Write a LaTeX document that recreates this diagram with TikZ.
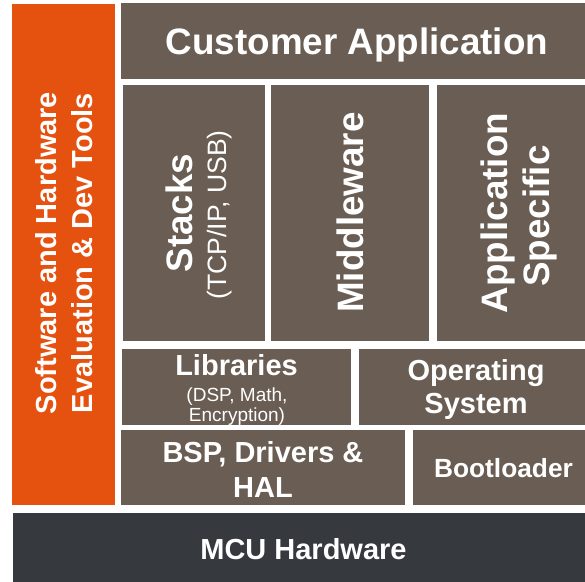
\documentclass[tikz,border=0pt]{standalone}
\usepackage{fontspec}
\setmainfont{Liberation Sans}
\usepackage{xcolor}
\usepackage{tikz}

\definecolor{toolorange}{RGB}{229,81,14}
\definecolor{layerbrown}{RGB}{105,93,84}
\definecolor{hwgrey}{RGB}{54,58,62}

\begin{document}
\begin{tikzpicture}[x=1pt,y=-1pt,
  txt/.style={text=white,inner sep=0pt,anchor=base},
  head/.style={txt,font=\bfseries\fontsize{36.8}{40}\selectfont},
  layer/.style={txt,font=\bfseries\fontsize{29}{33}\selectfont},
  note/.style={txt,font=\fontsize{26.6}{30}\selectfont},
  fine/.style={txt,font=\fontsize{19}{21}\selectfont}]
\useasboundingbox (0,0) rectangle (585,581);
\clip (0,0) rectangle (585,581);
\fill[toolorange] (12,4) rectangle (115,505);
  \node[layer,rotate=90] (tools1) at (56,253) {Software and Hardware};
  \node[layer,rotate=90] (tools2) at (92,253) {Evaluation \& Dev Tools};
\fill[layerbrown] (121,3) rectangle (593,79);
  \node[head] (cust) at (357,54.5) {Customer Application};
\fill[layerbrown] (123,85) rectangle (265,341);
  \node[head,rotate=90] (stacks) at (192,213) {Stacks};
  \node[note,rotate=90] (stacks2) at (226,215) {(TCP/IP, USB)};
\fill[layerbrown] (271,85) rectangle (429,341);
  \node[head,rotate=90] (mid) at (363,212.5) {Middleware};
\fill[layerbrown] (437,85) rectangle (593,341);
  \node[head,rotate=90] (app1) at (507,213) {Application};
  \node[head,rotate=90] (app2) at (549,216) {Specific};
\fill[layerbrown] (122,349) rectangle (351,425);
  \node[layer] (libs) at (236.5,375) {Libraries};
  \node[fine] (libs2) at (237,401) {(DSP, Math,};
  \node[fine] (libs3) at (237,421) {Encryption)};
\fill[layerbrown] (359,349) rectangle (593,425);
  \node[layer] (os1) at (476,380) {Operating};
  \node[layer] (os2) at (476,413) {System};
\fill[layerbrown] (121,430) rectangle (405,505);
  \node[layer] (bsp1) at (263,462) {BSP, Drivers \&};
  \node[layer] (bsp2) at (263,497) {HAL};
\fill[layerbrown] (413,430) rectangle (593,505);
  \node[layer,font=\bfseries\fontsize{26.3}{30}\selectfont] (boot) at (503.5,477) {Bootloader};
\fill[hwgrey] (13,513) rectangle (593,584);
  \node[layer] (mcu) at (303.5,559) {MCU Hardware};
\end{tikzpicture}
\end{document}
